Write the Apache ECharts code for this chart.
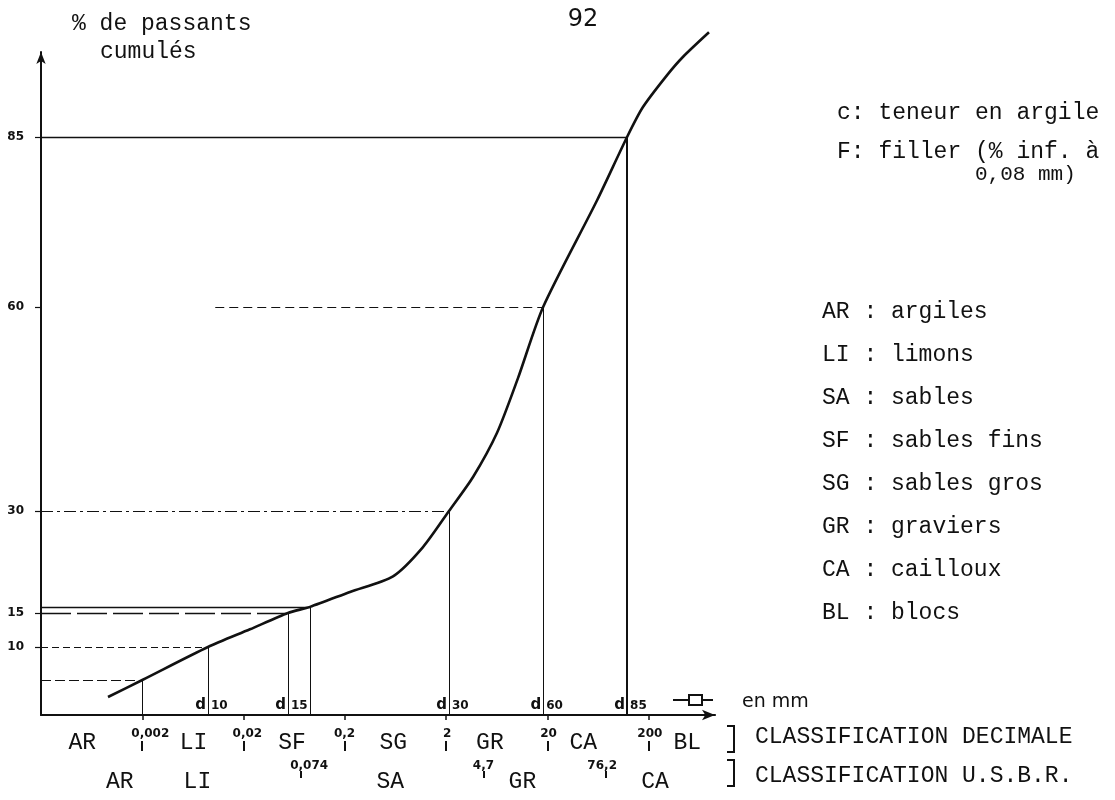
<!DOCTYPE html>
<html><head><meta charset="utf-8">
<script src="https://cdn.jsdelivr.net/npm/echarts@6/dist/echarts.min.js"></script>
<style>html,body{margin:0;padding:0;background:#fff}#c{width:1115px;height:800px}</style>
</head><body><div id="c"></div>
<script>
// ---------- data ----------
const sizeMm     = [0.000917, 0.002, 0.0089, 0.0231, 0.0548, 0.0904, 0.2246, 0.597, 1.18, 2.13, 3.68, 6.35, 10.2, 18.1, 61.7, 122, 175, 303, 436, 785];
const passingPct = [2.65, 5.15, 10, 12.6, 15, 15.9, 18.1, 20.4, 24.7, 30, 35, 41.5, 49.5, 60, 75.7, 85, 89.4, 94.1, 96.8, 100.4];

const yTickValues = [10, 15, 30, 60, 85];

const decimalTicks      = [0.002, 0.02, 0.2, 2, 20, 200];
const decimalTickLabels = ['0,002', '0,02', '0,2', '2', '20', '200'];
const usbrTicks         = [0.074, 4.7, 76.2];
const usbrTickLabels    = ['0,074', '4,7', '76,2'];

const decimalClasses       = ['AR', 'LI', 'SF', 'SG', 'GR', 'CA', 'BL'];
const decimalClassCenters  = [0.00051, 0.0064, 0.06, 0.6, 5.4, 45, 480];
const usbrClasses          = ['AR', 'LI', 'SA', 'GR', 'CA'];
const usbrClassCenters     = [0.0012, 0.007, 0.56, 11.3, 230];

const refNames        = ['c', 'd10', 'd15', 'F', 'd30', 'd60', 'd85'];
const refSizeMm       = [0.002, 0.0089, 0.0548, 0.0904, 2.13, 18.1, 122];
const refPct          = [5.15, 10, 15, 15.9, 30, 60, 85];
const refLineStartMm  = [0.0002, 0.0002, 0.0002, 0.0002, 0.0002, 0.0105, 0.0002];

const legendCodes = ['AR', 'LI', 'SA', 'SF', 'SG', 'GR', 'CA', 'BL'];
const legendNames = ['argiles', 'limons', 'sables', 'sables fins', 'sables gros', 'graviers', 'cailloux', 'blocs'];

// ---------- styles ----------
const INK = '#111';
const MONO = '"Liberation Mono", "DejaVu Sans Mono", monospace';
const SANS = '"DejaVu Sans", sans-serif';
const hDash = [[10, 4], [7, 4], [30, 6], 'solid', [12, 4, 3, 4], [9, 5], 'solid'];
const hWidth = [1, 1, 1.6, 1.6, 1, 1, 1.4];
const vWidth = [1, 1, 1, 1, 1, 1, 2];

function px(v, w) { return w % 2 === 1 ? Math.round(v) + 0.5 : Math.round(v); }

function txt(x, y, text, font, align, extra) {
  return Object.assign({
    type: 'text', x: x, y: y, silent: true,
    style: { text: text, font: font, fill: INK, align: align || 'left', textAlign: align || 'left',
             verticalAlign: 'middle', textVerticalAlign: 'middle' }
  }, extra || {});
}

const graphics = [
  txt(72, 24, '% de passants', '23px ' + MONO),
  txt(100, 52, 'cumulés', '23px ' + MONO),
  txt(583, 20, '92', '24px ' + SANS, 'center'),
  txt(837, 113, 'c: teneur en argile', '23px ' + MONO),
  txt(837, 152, 'F: filler (% inf. à', '23px ' + MONO),
  txt(975, 174, '0,08 mm)', '21px ' + MONO),
  txt(742, 702, 'en mm', '19px ' + SANS),
  txt(755, 737, 'CLASSIFICATION DECIMALE', '23px ' + MONO),
  txt(755, 776, 'CLASSIFICATION U.S.B.R.', '23px ' + MONO),
  { type: 'polyline', silent: true, shape: { points: [[727, 726], [734, 726], [734, 752], [727, 752]] }, style: { stroke: INK, lineWidth: 2, fill: null } },
  { type: 'polyline', silent: true, shape: { points: [[727, 760], [734, 760], [734, 786], [727, 786]] }, style: { stroke: INK, lineWidth: 2, fill: null } },
  // sieve symbol
  { type: 'line', silent: true, shape: { x1: 673, y1: 700, x2: 713, y2: 700 }, style: { stroke: INK, lineWidth: 2 } },
  { type: 'rect', silent: true, shape: { x: 689, y: 695, width: 13, height: 10 }, style: { stroke: INK, lineWidth: 2, fill: '#fff' } }
];
legendCodes.forEach(function (code, i) {
  graphics.push(txt(822, 312 + i * 43, code + ' : ' + legendNames[i], '23px ' + MONO));
});

// ---------- renderers ----------
function renderRef(params, api) {
  const i = params.dataIndex;
  const p = api.coord([api.value(0), api.value(1)]);
  const b = api.coord([api.value(0), 0]);
  const s = api.coord([api.value(2), api.value(1)]);
  const hy = px(p[1], 1);
  const vx = px(p[0], vWidth[i]);
  const children = [
    { type: 'line', shape: { x1: s[0], y1: hy, x2: p[0], y2: hy }, style: { stroke: INK, lineWidth: hWidth[i], lineDash: hDash[i] } },
    { type: 'line', shape: { x1: vx, y1: p[1], x2: vx, y2: b[1] }, style: { stroke: INK, lineWidth: vWidth[i] } }
  ];
  const name = refNames[i];
  if (name.charAt(0) === 'd') {
    children.push({ type: 'text', style: { x: b[0] - 2, y: b[1] - 10, text: 'd', font: 'bold 15px ' + SANS, fill: INK, align: 'right', textAlign: 'right', verticalAlign: 'middle', textVerticalAlign: 'middle' } });
    children.push({ type: 'text', style: { x: b[0] + 3, y: b[1] - 9, text: name.slice(1), font: 'bold 12px ' + SANS, fill: INK, align: 'left', textAlign: 'left', verticalAlign: 'middle', textVerticalAlign: 'middle' } });
  }
  return { type: 'group', children: children };
}

function makeTickRenderer(labels, tickTop, tickBottom, textY) {
  return function (params, api) {
    const i = params.dataIndex;
    const b = api.coord([api.value(0), 0]);
    const x = px(b[0], 2);
    const lab = labels[i];
    const ci = lab.indexOf(',');
    const tx = ci >= 0 ? b[0] - ci * 8 - 3 : b[0] + 1;
    const al = ci >= 0 ? 'left' : 'center';
    return { type: 'group', children: [
      { type: 'line', shape: { x1: x, y1: b[1] + tickTop, x2: x, y2: b[1] + tickBottom }, style: { stroke: INK, lineWidth: 2 } },
      { type: 'text', style: { x: tx, y: b[1] + textY, text: lab, font: 'bold 12px ' + SANS, fill: INK, align: al, textAlign: al, verticalAlign: 'middle', textVerticalAlign: 'middle' } }
    ] };
  };
}

function makeClassRenderer(labels, dy) {
  return function (params, api) {
    const b = api.coord([api.value(0), 0]);
    return { type: 'text', style: { x: b[0], y: b[1] + dy, text: labels[params.dataIndex], font: '23px ' + MONO, fill: INK, align: 'center', textAlign: 'center', verticalAlign: 'middle', textVerticalAlign: 'middle' } };
  };
}

const chart = echarts.init(document.getElementById('c'), null, { renderer: 'canvas' });
chart.setOption({
  backgroundColor: '#fff',
  animation: false,
  grid: { left: 41, right: 400, top: 52, bottom: 85, containLabel: false },
  xAxis: {
    type: 'log', logBase: 10, min: 0.0002, max: 900,
    axisLine: { show: true, symbol: ['none', 'arrow'], symbolSize: [8, 13], lineStyle: { color: INK, width: 2.2 } },
    axisTick: { show: true, customValues: decimalTicks, length: 5, lineStyle: { color: INK, width: 1.5 } },
    axisLabel: { show: false },
    splitLine: { show: false },
    minorTick: { show: false }
  },
  yAxis: {
    type: 'value', min: 0, max: 97.5,
    axisLine: { show: true, symbol: ['none', 'arrow'], symbolSize: [7, 12], lineStyle: { color: INK, width: 2 } },
    axisTick: { show: true, customValues: yTickValues, length: 6, lineStyle: { color: INK, width: 1.2 } },
    axisLabel: { show: true, customValues: yTickValues, margin: 17, color: INK, fontFamily: SANS, fontWeight: 'bold', fontSize: 12 },
    splitLine: { show: false }
  },
  graphic: graphics,
  series: [
    {
      name: 'courbe', type: 'line', smooth: 0.25, showSymbol: false, clip: false, z: 5,
      lineStyle: { color: INK, width: 2.6 },
      data: sizeMm.map(function (x, i) { return [x, passingPct[i]]; })
    },
    {
      name: 'repères', type: 'custom', renderItem: renderRef, z: 3,
      encode: { x: 0, y: 1 },
      data: refSizeMm.map(function (x, i) { return [x, refPct[i], refLineStartMm[i]]; })
    },
    {
      name: 'ticks décimale', type: 'custom', renderItem: makeTickRenderer(decimalTickLabels, 26, 36, 19),
      encode: { x: 0, y: 1 }, data: decimalTicks.map(function (x) { return [x, 0]; })
    },
    {
      name: 'ticks usbr', type: 'custom', renderItem: makeTickRenderer(usbrTickLabels, 56, 63, 51),
      encode: { x: 0, y: 1 }, data: usbrTicks.map(function (x) { return [x, 0]; })
    },
    {
      name: 'classes décimale', type: 'custom', renderItem: makeClassRenderer(decimalClasses, 28),
      encode: { x: 0, y: 1 }, data: decimalClassCenters.map(function (x) { return [x, 0]; })
    },
    {
      name: 'classes usbr', type: 'custom', renderItem: makeClassRenderer(usbrClasses, 67),
      encode: { x: 0, y: 1 }, data: usbrClassCenters.map(function (x) { return [x, 0]; })
    }
  ]
});
</script>
</body></html>
